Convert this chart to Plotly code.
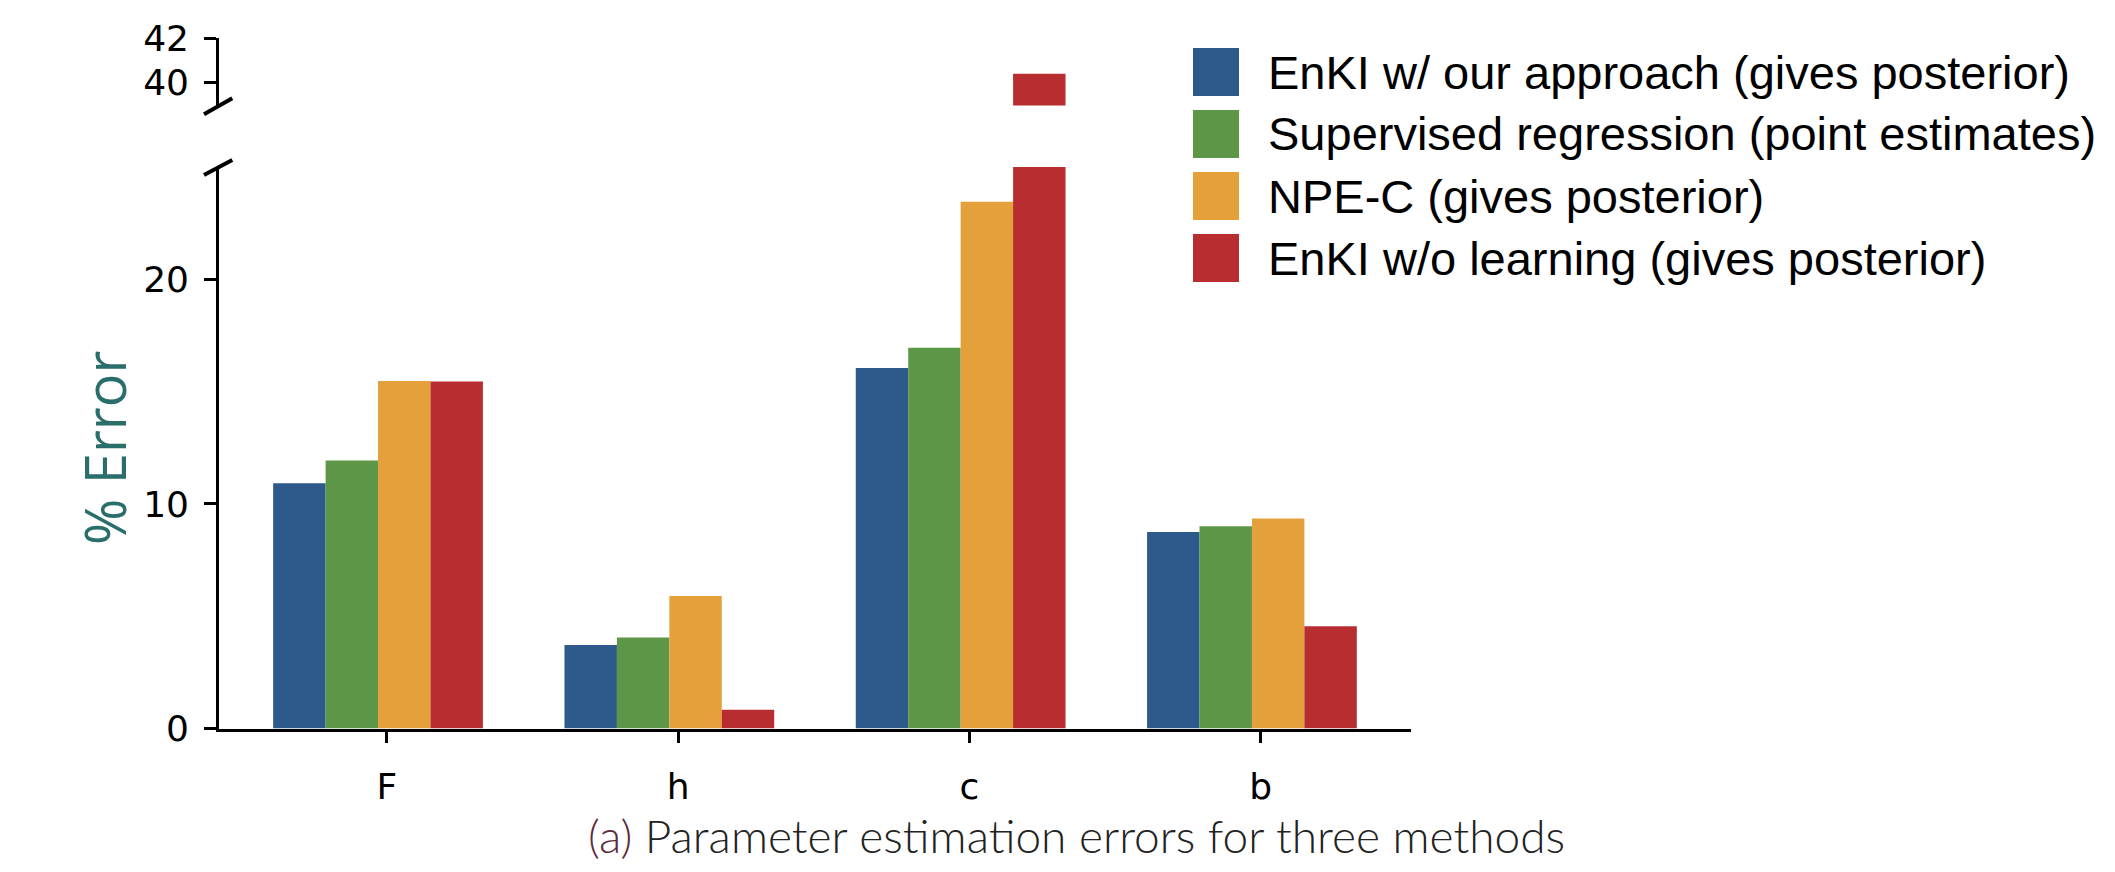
import plotly.graph_objects as go

# ---- data ----
categories = ["F", "h", "c", "b"]
series_names = [
    "EnKI w/ our approach (gives posterior)",
    "Supervised regression (point estimates)",
    "NPE-C (gives posterior)",
    "EnKI w/o learning (gives posterior)",
]
enki_ours = [10.92, 3.72, 16.05, 8.75]
supervised = [11.93, 4.05, 16.95, 9.0]
npe_c = [15.47, 5.9, 23.45, 9.35]
enki_no_learning = [15.45, 0.83, 40.4, 4.55]
series_values = [enki_ours, supervised, npe_c, enki_no_learning]
colors = ["#2D5A8A", "#5C9646", "#E4A03A", "#B82D30"]
lower_ticks = [0, 10, 20]
upper_ticks = [40, 42]

W, H = 2115, 872
OFF = 8  # page body margin compensation


def px(x):
    return (x - OFF) / W


def py(y):
    return 1 - (y - OFF) / H


bar_w = 0.18
fig = go.Figure()
for j, (name, vals, col) in enumerate(zip(series_names, series_values, colors)):
    xs = [i - 0.3 + bar_w * j for i in range(len(categories))]
    for yax in ["y", "y2"]:
        fig.add_trace(go.Bar(
            x=xs, y=vals, width=bar_w, name=name, yaxis=yax, xaxis="x",
            marker=dict(color=col, line=dict(width=0)),
            showlegend=False, hoverinfo="skip",
        ))

axis_common = dict(
    showline=True, linecolor="black", linewidth=2.7,
    ticks="outside", ticklen=12, tickwidth=2.7, tickcolor="black",
    showgrid=False, zeroline=False, automargin=False,
    tickfont=dict(family="DejaVu Sans", size=36, color="black"),
)

fig.update_layout(
    template=None,
    width=W, height=H,
    margin=dict(l=0, r=0, t=0, b=0, pad=0, autoexpand=False),
    paper_bgcolor="white", plot_bgcolor="white",
    barmode="overlay",
    showlegend=False,
    xaxis=dict(
        domain=[px(219), px(1411)], range=[-0.576, 3.516],
        tickvals=list(range(len(categories))), ticktext=categories,
        anchor="y", ticklabelstandoff=12, **axis_common,
    ),
    yaxis=dict(
        domain=[py(728.5), py(167)], range=[0, 25],
        tickvals=lower_ticks, anchor="x", ticklabelstandoff=8, **axis_common,
    ),
    yaxis2=dict(
        domain=[py(105.5), py(38.3)], range=[38.97, 42],
        tickvals=upper_ticks, anchor="x", ticklabelstandoff=8, **axis_common,
    ),
)

# axis break marks
shapes = [
    dict(type="line", xref="paper", yref="paper",
         x0=px(204), y0=py(114.3), x1=px(232.3), y1=py(98.3),
         line=dict(color="black", width=4)),
    dict(type="line", xref="paper", yref="paper",
         x0=px(204), y0=py(175), x1=px(232.3), y1=py(160),
         line=dict(color="black", width=4)),
]

# legend (drawn manually to get large square keys)
row_centers = [72, 134, 196, 258]
annotations = []
for name, col, cy in zip(series_names, colors, row_centers):
    shapes.append(dict(type="rect", xref="paper", yref="paper",
                       x0=px(1193), x1=px(1239), y0=py(cy + 24), y1=py(cy - 24),
                       fillcolor=col, line=dict(width=0)))
    annotations.append(dict(
        x=px(1266), y=py(cy), xref="paper", yref="paper", xanchor="left", yanchor="middle",
        text=name, showarrow=False,
        font=dict(family="Liberation Sans", size=47, color="black")))

annotations.append(dict(
    x=px(104), y=py(448), xref="paper", yref="paper", xanchor="center", yanchor="middle",
    text="% Error", textangle=-90, showarrow=False,
    font=dict(family="Open Sans", size=56, color="#2A6E6C")))

annotations.append(dict(
    x=px(1076), y=py(835), xref="paper", yref="paper", xanchor="center", yanchor="middle",
    text="<span style='color:#5E2A3C'>(a)</span> Parameter estimation errors for three methods",
    showarrow=False,
    font=dict(family="Lato", size=46, color="#222222", weight=300)))

fig.update_layout(shapes=shapes, annotations=annotations)
fig.write_html("out.html")
